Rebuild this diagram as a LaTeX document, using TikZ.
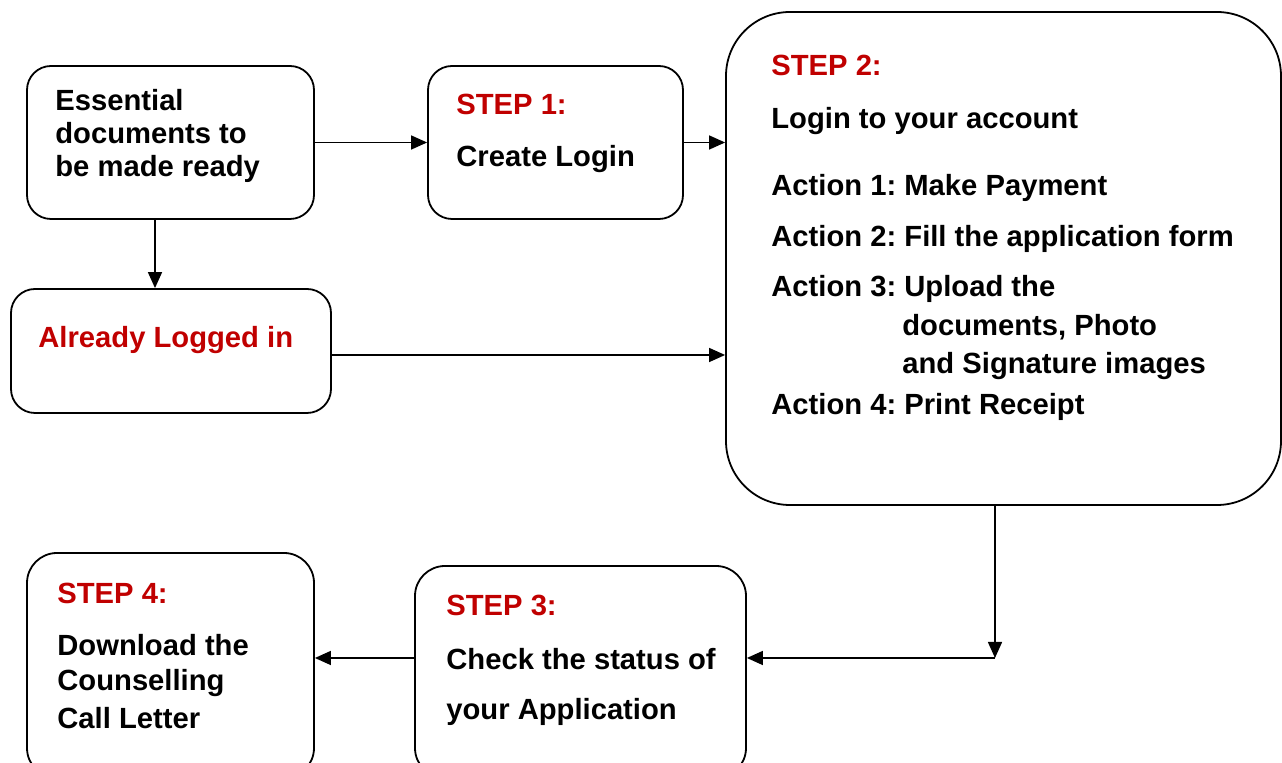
\documentclass[tikz,border=0pt]{standalone}
\usepackage{fontspec}
\setmainfont{Liberation Sans}
\usepackage{xcolor}
\usetikzlibrary{arrows.meta}
\definecolor{stepred}{RGB}{192,0,0}
\frenchspacing
\tikzset{
  box/.style={draw, line width=0.9pt, rounded corners=12pt, inner sep=0pt},
  arr/.style={line width=0.75pt, -{Triangle[length=8pt,width=7pt]}},
  txt/.style={anchor=base west, inner sep=0pt, font=\fontsize{14.6}{16.5}\selectfont\bfseries},
  head/.style={txt, text=stepred}
}
\begin{document}
\begin{tikzpicture}[x=0.5pt, y=-0.5pt]
\useasboundingbox (0,0) rectangle (1282,763);
% boxes
\node[box, minimum width=143.5pt, minimum height=76.5pt] (ess) at (170.5,142.5) {};
\node[box, minimum width=160pt, minimum height=62pt] (login) at (171,351) {};
\node[box, minimum width=127.5pt, minimum height=76.5pt] (step1) at (555.5,142.5) {};
\node[box, rounded corners=32pt, minimum width=277.5pt, minimum height=246.5pt] (step2) at (1003.5,258.5) {};
\node[box, rounded corners=15pt, minimum width=165.5pt, minimum height=106pt] (step3) at (580.5,672) {};
\node[box, rounded corners=15pt, minimum width=143.5pt, minimum height=112.5pt] (step4) at (170.5,665.5) {};
% texts
\node[txt] (esst1) at (55,111) {Essential};
\node[txt] (esst2) at (55,144) {documents to};
\node[txt] (esst3) at (55,177) {be made ready};
\node[head] (logt) at (38,348) {Already Logged in};
\node[head] (s1h) at (456,115) {STEP 1:};
\node[txt] (s1t) at (456,167) {Create Login};
\node[head] (s2h) at (771,76) {STEP 2:};
\node[txt] (s2t) at (771,129) {Login to your account};
\node[txt] (act1) at (771,196) {Action 1: Make Payment};
\node[txt] (act2) at (771,247) {Action 2: Fill the application form};
\node[txt] (act3) at (771,297) {Action 3: Upload the};
\node[txt] (act3b) at (902,336) {documents, Photo};
\node[txt] (act3c) at (902,374) {and Signature images};
\node[txt] (act4) at (771,415) {Action 4: Print Receipt};
\node[head] (s3h) at (446,616) {STEP 3:};
\node[txt] (s3t1) at (446,670) {Check the status of};
\node[txt] (s3t2) at (446,720) {your Application};
\node[head] (s4h) at (57,604) {STEP 4:};
\node[txt] (s4t1) at (57,656) {Download the};
\node[txt] (s4t2) at (57,691) {Counselling};
\node[txt] (s4t3) at (57,729) {Call Letter};
% connectors
\coordinate (turn) at (995,658);
\draw[arr] (ess.east) -- (step1.west);
\draw[arr] (step1.east) -- (step1.east -| step2.west);
\draw[arr] ([xshift=-7.75pt]ess.south) -- ([xshift=-7.75pt]ess.south |- login.north);
\draw[arr] ([yshift=-2pt]login.east) -- ([yshift=-2pt]login.east -| step2.west);
\draw[arr] (turn |- step2.south) -- (turn);
\draw[arr] (turn) -- (turn -| step3.east);
\draw[arr] (step3.west |- turn) -- (step4.east |- turn);
\end{tikzpicture}
\end{document}
